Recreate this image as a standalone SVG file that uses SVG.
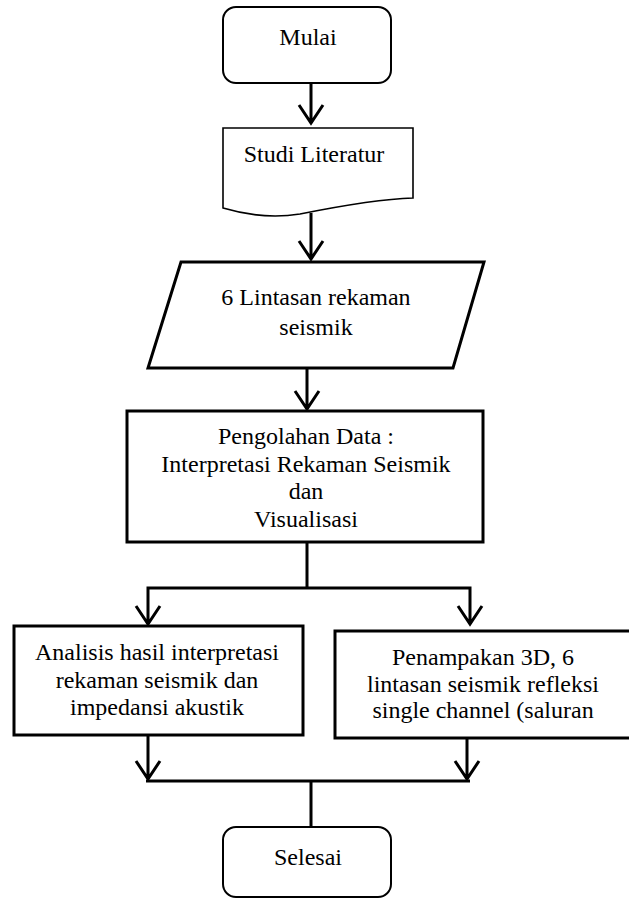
<svg xmlns="http://www.w3.org/2000/svg" width="629" height="898" viewBox="0 0 629 898">
<style>
.t{font-family:"Liberation Serif","Times New Roman",serif;font-size:24px;fill:#000;text-anchor:middle}
.n{fill:#fff;stroke:#000}
.c{fill:none;stroke:#000;stroke-width:3}
</style>
<rect width="629" height="898" fill="#fff"/>
<g id="mulai">
<rect class="n" x="223" y="7" width="168" height="76" rx="13" stroke-width="2"/>
<text class="t" x="308" y="45">Mulai</text>
</g>
<g id="studi">
<path class="n" stroke-width="1.6" d="M223,128 H413 V198 C380,199 340,206 300,214 C275,218 250,216 223,208 Z"/>
<text class="t" x="314" y="162">Studi Literatur</text>
</g>
<g id="lintasan">
<polygon class="n" stroke-width="3" points="181,262 484,262 453,368 148,368"/>
<text class="t" x="316" y="305">6 Lintasan rekaman</text>
<text class="t" x="316" y="335">seismik</text>
</g>
<g id="pengolahan">
<rect class="n" x="127" y="411" width="356" height="131" stroke-width="3"/>
<text class="t" x="306" y="444">Pengolahan Data :</text>
<text class="t" x="306" y="472">Interpretasi Rekaman Seismik</text>
<text class="t" x="306" y="499">dan</text>
<text class="t" x="306" y="527">Visualisasi</text>
</g>
<g id="analisis">
<rect class="n" x="14" y="626" width="289" height="109" stroke-width="3"/>
<text class="t" x="157" y="660">Analisis hasil interpretasi</text>
<text class="t" x="157" y="688">rekaman seismik dan</text>
<text class="t" x="157" y="715">impedansi akustik</text>
</g>
<g id="penampakan">
<rect class="n" x="335" y="631" width="300" height="107" stroke-width="3"/>
<text class="t" x="483" y="665">Penampakan 3D, 6</text>
<text class="t" x="483" y="692">lintasan seismik refleksi</text>
<text class="t" x="483" y="718">single channel (saluran</text>
</g>
<g id="selesai">
<rect class="n" x="223" y="827" width="168" height="70" rx="13" stroke-width="2"/>
<text class="t" x="308" y="865">Selesai</text>
</g>
<g id="connectors" class="c">
<path d="M311,83 V123 M299,105 L311,123 L323,105"/>
<path d="M311,213 V259 M299,241 L311,259 L323,241"/>
<path d="M307,368 V409 M295,391 L307,409 L319,391"/>
<path d="M307,542 V588 M148,624 V588 H470 V624 M136,606 L148,624 L160,606 M458,606 L470,624 L482,606"/>
<path d="M148,735 V779 M136,761 L148,779 L160,761"/>
<path d="M467,738 V779 M455,761 L467,779 L479,761"/>
<path d="M146,781 H470 M311,781 V827"/>
</g>
</svg>
